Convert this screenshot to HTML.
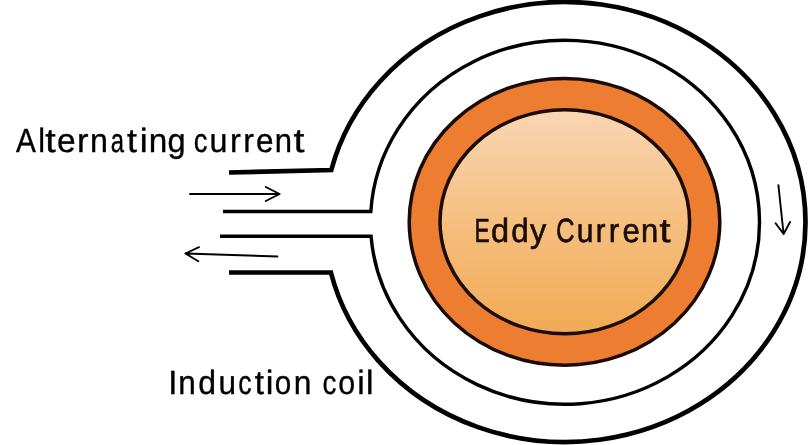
<!DOCTYPE html>
<html>
<head>
<meta charset="utf-8">
<style>
html,body{margin:0;padding:0;background:#fff;width:808px;height:445px;overflow:hidden;}
svg{display:block;will-change:transform;}
text{font-family:"Liberation Sans",sans-serif;text-rendering:geometricPrecision;font-size:33.5px;}
</style>
</head>
<body>
<svg width="808" height="445" viewBox="0 0 808 445">
<defs>
<linearGradient id="g1" x1="0" y1="0" x2="0" y2="1">
<stop offset="0" stop-color="#F9D6B4"/>
<stop offset="0.5" stop-color="#F5BF80"/>
<stop offset="1" stop-color="#F2AA55"/>
</linearGradient>
</defs>
<rect width="808" height="445" fill="#fff"/>
<!-- outer coil path with opening -->
<path d="M229,172.5 L331.3,170 A240.5,220 0 1 1 330.9,272.5 L229,272.5" fill="none" stroke="#000" stroke-width="4.7" stroke-linejoin="miter"/>
<!-- inner coil path -->
<path d="M223,211.5 L370.84,211.5 A194.5,182 0 1 1 371.08,236.3 L220,236.3" fill="none" stroke="#000" stroke-width="3.4" stroke-linejoin="miter"/>
<!-- orange -->
<ellipse cx="564.5" cy="221.8" rx="155.3" ry="143.4" fill="#ED7D31" stroke="#1a0c04" stroke-width="3.5"/>
<ellipse cx="564.8" cy="221.8" rx="124.8" ry="112" fill="url(#g1)" stroke="#1a0c04" stroke-width="3.5"/>
<!-- arrows -->
<path d="M190,194 L279.4,194 M265.8,187 L279.6,194 L265.8,201" fill="none" stroke="#000" stroke-width="1.9" stroke-linejoin="round" stroke-linecap="round"/>
<path d="M277.4,256.5 L185.4,253.5 M199,247.2 L185.4,253.5 L198.3,261.2" fill="none" stroke="#000" stroke-width="1.9" stroke-linejoin="round" stroke-linecap="round"/>
<path d="M778.4,185.2 L783.6,234 M775.6,223.3 L783.6,234 L790.1,221.9" fill="none" stroke="#000" stroke-width="1.9" stroke-linejoin="round" stroke-linecap="round"/>
<!-- texts -->
<g fill="#000" stroke="#000" stroke-width="0.35">
<text transform="translate(16.00,151.6) scale(0.891,1)">A</text>
<text transform="translate(38.20,151.6) scale(0.911,1)">l</text>
<text transform="translate(45.33,151.6) scale(1.123,1)">t</text>
<text transform="translate(57.05,151.6) scale(1.002,1)">e</text>
<text transform="translate(76.99,151.6) scale(1.032,1)">r</text>
<text transform="translate(89.93,151.6) scale(0.960,1)">n</text>
<text transform="translate(110.71,151.6) scale(0.712,1)">a</text>
<text transform="translate(126.95,151.6) scale(1.067,1)">t</text>
<text transform="translate(139.71,151.6) scale(1.062,1)">i</text>
<text transform="translate(148.86,151.6) scale(0.994,1)">n</text>
<text transform="translate(167.40,151.6) scale(0.973,1)">g</text>
<text transform="translate(193.78,151.6) scale(0.818,1)">c</text>
<text transform="translate(209.48,151.6) scale(0.960,1)">u</text>
<text transform="translate(230.10,151.6) scale(0.974,1)">r</text>
<text transform="translate(243.33,151.6) scale(0.963,1)">r</text>
<text transform="translate(255.93,151.6) scale(0.940,1)">e</text>
<text transform="translate(274.70,151.6) scale(0.926,1)">n</text>
<text transform="translate(293.41,151.6) scale(1.179,1)">t</text>
</g>
<g fill="#000" stroke="#000" stroke-width="0.35">
<text transform="translate(168.35,393.9) scale(0.979,1)">I</text>
<text transform="translate(178.27,393.9) scale(0.940,1)">n</text>
<text transform="translate(198.33,393.9) scale(0.954,1)">d</text>
<text transform="translate(218.42,393.9) scale(0.940,1)">u</text>
<text transform="translate(238.20,393.9) scale(0.798,1)">c</text>
<text transform="translate(254.77,393.9) scale(0.988,1)">t</text>
<text transform="translate(265.77,393.9) scale(1.032,1)">i</text>
<text transform="translate(274.71,393.9) scale(0.884,1)">o</text>
<text transform="translate(293.86,393.9) scale(0.946,1)">n</text>
<text transform="translate(322.46,393.9) scale(0.831,1)">c</text>
<text transform="translate(338.28,393.9) scale(0.909,1)">o</text>
<text transform="translate(357.13,393.9) scale(1.002,1)">i</text>
<text transform="translate(366.01,393.9) scale(1.002,1)">l</text>
</g>
<g fill="#1a0c04" stroke="#1a0c04" stroke-width="0.6">
<text transform="translate(474.53,241.5) scale(0.682,1)">E</text>
<text transform="translate(491.03,241.5) scale(0.970,1)">d</text>
<text transform="translate(511.36,241.5) scale(0.938,1)">d</text>
<text transform="translate(529.91,241.5) scale(0.971,1)">y</text>
<text transform="translate(556.12,241.5) scale(0.770,1)">C</text>
<text transform="translate(576.82,241.5) scale(0.897,1)">u</text>
<text transform="translate(595.63,241.5) scale(0.869,1)">r</text>
<text transform="translate(608.68,241.5) scale(0.947,1)">r</text>
<text transform="translate(622.55,241.5) scale(0.931,1)">e</text>
<text transform="translate(641.12,241.5) scale(0.924,1)">n</text>
<text transform="translate(659.46,241.5) scale(1.180,1)">t</text>
</g>

</svg>
</body>
</html>
